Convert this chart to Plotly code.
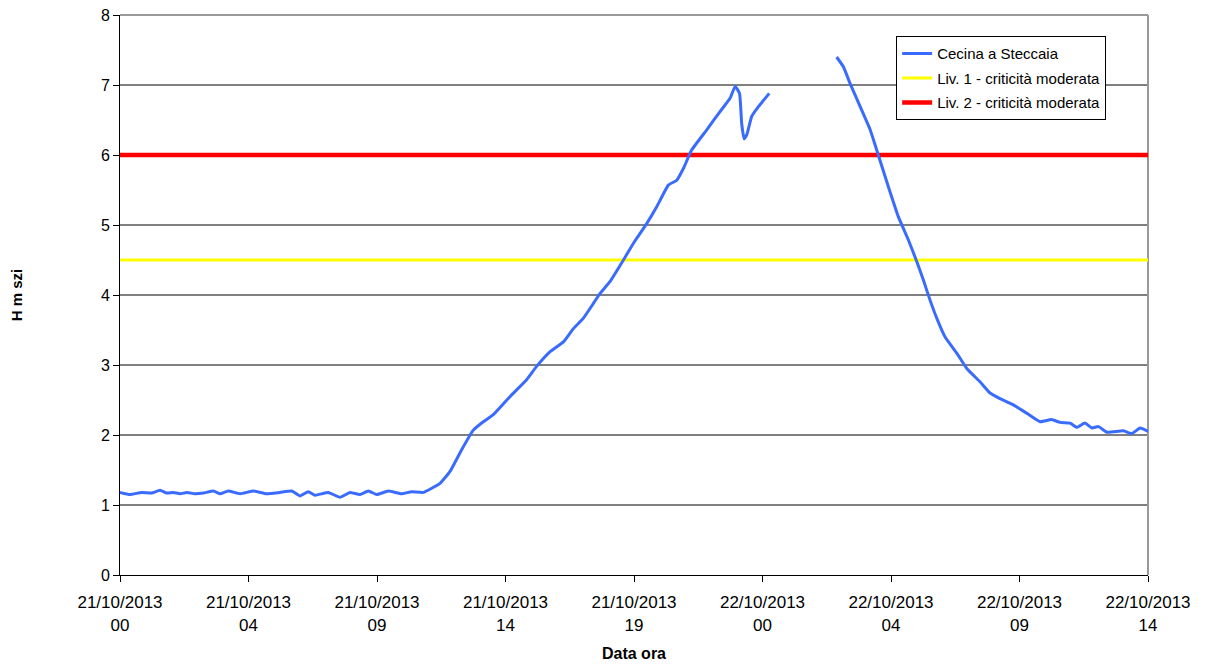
import plotly.graph_objects as go

# hours since 21/10/2013 00:00 and water level (m slm)
ore = [0.00, 0.37, 0.80, 1.17, 1.48, 1.73, 1.97, 2.22, 2.47, 2.77, 3.08, 3.45, 3.70,
       4.00, 4.44, 4.93, 5.42, 5.91, 6.35, 6.65, 6.96, 7.21, 7.70, 8.13, 8.50, 8.87,
       9.18, 9.49, 9.92, 10.41, 10.78, 11.21, 11.83, 12.20, 12.63, 13.06, 13.43, 13.80,
       14.42, 15.03, 15.40, 15.90, 16.39, 16.76, 17.13, 17.50, 17.74, 18.11, 18.61,
       18.98, 19.47, 19.84, 20.27, 20.58, 20.83, 21.13, 21.69, 22.18, 22.55, 22.74,
       22.90, 22.98, 23.07, 23.17, 23.35, 23.60, 24.00, 25.00,
       26.49, 26.74, 26.99, 27.36, 27.73, 28.03, 28.40, 28.77, 29.14, 29.45, 29.70,
       29.94, 30.19, 30.50, 30.93, 31.30, 31.79, 32.16, 32.53, 33.02, 33.52, 34.01,
       34.44, 34.75, 35.12, 35.37, 35.67, 35.92, 36.17, 36.48, 37.09, 37.40, 37.71, 38.00]
livello = [1.18, 1.15, 1.18, 1.17, 1.21, 1.17, 1.18, 1.16, 1.18, 1.16, 1.17, 1.20, 1.16,
           1.20, 1.16, 1.20, 1.16, 1.18, 1.20, 1.13, 1.19, 1.14, 1.18, 1.11, 1.18, 1.15,
           1.20, 1.15, 1.20, 1.16, 1.19, 1.18, 1.31, 1.48, 1.79, 2.07, 2.19, 2.29,
           2.55, 2.79, 2.98, 3.19, 3.33, 3.52, 3.67, 3.88, 4.02, 4.19, 4.50,
           4.74, 5.02, 5.26, 5.57, 5.64, 5.81, 6.07, 6.36, 6.62, 6.81, 6.98,
           6.88, 6.45, 6.23, 6.29, 6.55, 6.69, 6.88, None,
           7.40, 7.26, 7.02, 6.69, 6.36, 6.00, 5.55, 5.12, 4.79, 4.48, 4.21,
           3.93, 3.67, 3.40, 3.17, 2.95, 2.76, 2.60, 2.52, 2.43, 2.31, 2.19,
           2.22, 2.18, 2.17, 2.11, 2.17, 2.10, 2.12, 2.04, 2.06, 2.02, 2.10, 2.05]

soglia_1 = 4.5
soglia_2 = 6.0
griglia_y = [1, 2, 3, 4, 5, 6, 7]

tick_ore = [0, 4.75, 9.5, 14.25, 19, 23.75, 28.5, 33.25, 38]
tick_testo = ['21/10/2013<br>00', '21/10/2013<br>04', '21/10/2013<br>09',
              '21/10/2013<br>14', '21/10/2013<br>19', '22/10/2013<br>00',
              '22/10/2013<br>04', '22/10/2013<br>09', '22/10/2013<br>14']

fig = go.Figure()

fig.add_trace(go.Scatter(
    x=[ore[0], ore[-1]], y=[soglia_1, soglia_1], mode='lines',
    name='Liv. 1 - criticità moderata', line=dict(color='#FFFF00', width=3),
    legendrank=2, legendgroup='l1'))
fig.add_trace(go.Scatter(
    x=[ore[0], ore[-1]], y=[soglia_2, soglia_2], mode='lines',
    name='Liv. 2 - criticità moderata', line=dict(color='#FF0000', width=4.5),
    legendrank=3, legendgroup='l2'))
fig.add_trace(go.Scatter(
    x=ore, y=livello, mode='lines', name='Cecina a Steccaia',
    line=dict(color='#3A6BFF', width=3, shape='spline', smoothing=0.4),
    connectgaps=False, legendrank=1, legendgroup='cs'))

# horizontal gridlines (the top edge is a grey frame line instead)
for g in griglia_y:
    fig.add_shape(type='line', xref='paper', x0=0, x1=1, yref='y', y0=g, y1=g,
                  line=dict(color='#000000', width=1), layer='below')
# grey frame on top and right
fig.add_shape(type='line', xref='paper', x0=1, x1=1, yref='paper', y0=0, y1=1,
              line=dict(color='#999999', width=2), layer='below')
fig.add_shape(type='line', xref='paper', x0=0, x1=1, yref='paper', y0=1, y1=1,
              line=dict(color='#999999', width=2), layer='below')

# page body adds an 8px offset, so the figure is 8px smaller
fig.update_layout(
    width=1198, height=657,
    paper_bgcolor='white', plot_bgcolor='white',
    margin=dict(l=112, r=58, t=7, b=90),
    font=dict(family='Liberation Sans, Arial, sans-serif', size=17, color='#000000'),
    showlegend=True,
    legend=dict(
        x=0.755, y=0.962, xanchor='left', yanchor='top',
        bgcolor='white', bordercolor='#000000', borderwidth=1,
        font=dict(size=15), traceorder='grouped', tracegroupgap=2,
    ),
)

fig.update_xaxes(
    range=[0, 38], tickvals=tick_ore, ticktext=tick_testo,
    showgrid=False, zeroline=False, automargin=False,
    showline=True, linecolor='#000000', linewidth=1,
    ticks='outside', ticklen=6, tickcolor='#000000',
    ticklabelstandoff=6, ticklabeloverflow='allow',
    title=dict(text='<b>Data ora</b>', font=dict(size=16), standoff=14),
)
fig.update_yaxes(
    range=[0, 8], dtick=1, tick0=0,
    showgrid=False, zeroline=False, automargin=False,
    showline=True, linecolor='#000000', linewidth=1,
    ticks='outside', ticklen=6, tickcolor='#000000',
    tickfont=dict(size=16), ticklabeloverflow='allow',
    title=dict(text='<b>H m szi</b>', font=dict(size=15), standoff=76),
)

fig.write_html('out.html')
